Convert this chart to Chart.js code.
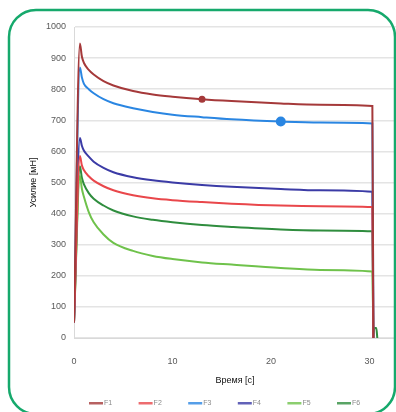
<!DOCTYPE html>
<html>
<head>
<meta charset="utf-8">
<script src="https://cdn.jsdelivr.net/npm/chart.js@4"></script>
<style>
  html, body { margin: 0; padding: 0; background: #fff; }
  #wrap { position: relative; width: 396px; height: 412px; }
</style>
</head>
<body>
<div id="wrap"><canvas id="chart" width="396" height="412"></canvas></div>
<script>
// time points (s)
const times = [0, 0.6, 0.8, 1, 1.5, 2, 3, 4, 6, 8, 10, 13, 16, 21, 25, 30.3, 30.4];
// force (mN) per series
const f1 = [50, 947, 905, 885, 862, 847, 826, 812, 794, 783, 776, 768, 762, 754, 750, 746, 0];
const f2 = [50, 585, 555, 540, 520, 506, 488, 475, 459, 449, 443, 437, 432, 426, 424, 421, 0];
const f3 = [50, 870, 838, 818, 800, 787, 768, 755, 739, 727, 718, 710, 703, 696, 693, 690, 0];
const f4 = [50, 643, 618, 603, 583, 567, 547, 533, 517, 507, 500, 492, 486, 479, 475, 470, 0];
const f5 = [50, 522, 480, 455, 405, 372, 333, 306, 280, 264, 254, 243, 236, 225, 219, 214, 0];
const f6 = [50, 552, 515, 495, 466, 448, 426, 410, 391, 380, 372, 363, 357, 349, 346, 343, 0];
// small tail after release (F6)
const tailTimes = [30.5, 30.7, 30.8];
const tailF6 = [32, 32, 0];

const xTicks = [0, 10, 20, 30];
const names = ['F1', 'F2', 'F3', 'F4', 'F5', 'F6'];
const colors = ['#a5393a', '#e9474b', '#2a86e2', '#3b3ba6', '#6fc24b', '#2f8d3e'];
const markerAt = { F1: 13, F3: 21 };

function pts(vals, extraT, extraV) {
  const out = times.map((t, i) => ({ x: t, y: vals[i] }));
  if (extraT) extraT.forEach((t, i) => out.push({ x: t, y: extraV[i] }));
  return out;
}

const seriesVals = [f1, f2, f3, f4, f5, f6];
const datasets = seriesVals.map((v, i) => ({
  label: names[i],
  data: i === 5 ? pts(v, tailTimes, tailF6) : pts(v),
  borderColor: colors[i],
  backgroundColor: colors[i],
  borderWidth: 2,
  cubicInterpolationMode: 'monotone',
  pointRadius: ctx => (ctx.raw && markerAt[names[i]] === ctx.raw.x) ? (i === 2 ? 4 : 2.5) : 0,
  pointHoverRadius: 0
}));

// rounded green frame + small legend row under the axis title
const frame = {
  id: 'frame',
  afterDraw(chart) {
    const c = chart.ctx;
    c.save();
    c.strokeStyle = '#16a96c';
    c.lineWidth = 2.5;
    c.beginPath();
    c.roundRect(9, 10, 386, 404, 27);
    c.stroke();

    c.font = '7px "Liberation Sans"';
    c.textBaseline = 'middle';
    chart.data.datasets.forEach((ds, i) => {
      const x = 89 + i * 49.6;
      const y = 403;
      c.fillStyle = ds.borderColor;
      c.globalAlpha = 0.8;
      c.fillRect(x, y - 1, 14, 2.5);
      c.globalAlpha = 1;
      c.fillStyle = '#8a8a8a';
      c.fillText(ds.label, x + 15, y);
    });
    c.restore();
  }
};

new Chart(document.getElementById('chart'), {
  type: 'line',
  data: { datasets },
  options: {
    responsive: false,
    animation: false,
    layout: { padding: { top: 27, right: 0, bottom: 24, left: 28 } },
    scales: {
      x: {
        type: 'linear',
        min: 0, max: 32.7,
        afterBuildTicks(s) { s.ticks = xTicks.map(v => ({ value: v })); },
        ticks: { color: '#595959', font: { family: 'Liberation Sans', size: 9 }, padding: 10 },
        grid: { display: false },
        border: { color: '#d9d9d9' },
        title: { display: true, text: 'Время [с]', color: '#111', font: { family: 'Liberation Sans', size: 9 }, padding: { top: 0, bottom: 2 } },
        afterFit(s) { s.height = 50; }
      },
      y: {
        min: 0, max: 1000,
        ticks: { stepSize: 100, color: '#595959', font: { family: 'Liberation Sans', size: 9 }, padding: 8,
                 callback: v => String(v) },
        grid: { color: '#e4e4e4', lineWidth: 1.5, drawTicks: false },
        border: { color: '#d9d9d9' },
        title: { display: true, text: 'Усилие [мН]', color: '#111', font: { family: 'Liberation Sans', size: 9 }, padding: { top: 0, bottom: 2 } },
        afterFit(s) { s.width = 46; }
      }
    },
    plugins: {
      legend: { display: false },
      tooltip: { enabled: false }
    }
  },
  plugins: [frame]
});
</script>
</body>
</html>
